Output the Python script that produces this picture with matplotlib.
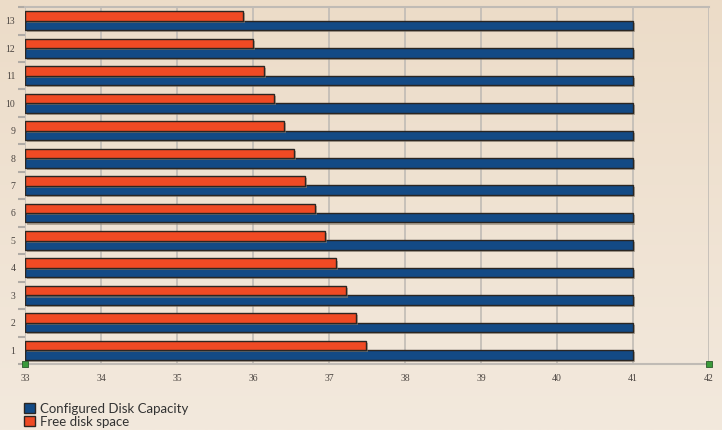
import numpy as np
import matplotlib.pyplot as plt
import matplotlib.patheffects as pe
from matplotlib.patches import Patch

# chart data
categories = [1, 2, 3, 4, 5, 6, 7, 8, 9, 10, 11, 12, 13]
configured = [41, 41, 41, 41, 41, 41, 41, 41, 41, 41, 41, 41, 41]
free_space = [37.49, 37.35, 37.22, 37.09, 36.95, 36.81, 36.68,
              36.54, 36.41, 36.27, 36.14, 36.00, 35.87]
x_ticks = [33, 34, 35, 36, 37, 38, 39, 40, 41, 42]

blue = "#134a85"
red = "#f04a24"
edge = "#2b2622"

fig = plt.figure(figsize=(7.22, 4.30), dpi=100)

# background gradient
bg = fig.add_axes([0, 0, 1, 1], zorder=-10)
grad = np.linspace(0, 1, 256).reshape(-1, 1)
top = np.array([236, 220, 200]) / 255
bot = np.array([243, 233, 221]) / 255
img = top + (bot - top) * grad[..., None]
bg.imshow(img, aspect="auto", extent=[0, 1, 0, 1])
bg.axis("off")

ax = fig.add_axes([0.0346, 0.1535, 0.9474, 0.830])
ax.patch.set_alpha(0)

y = np.array(categories)
h = 0.35
shadow = [pe.SimplePatchShadow(offset=(1.5, -1.5), shadow_rgbFace="#8a8070", alpha=0.6), pe.Normal()]

ax.barh(y - 0.17, [c - 33 for c in configured], left=33, height=h,
        color=blue, edgecolor=edge, linewidth=1.0, zorder=3, path_effects=shadow)
ax.barh(y + 0.17, [f - 33 for f in free_space], left=33, height=h,
        color=red, edgecolor=edge, linewidth=1.0, zorder=3, path_effects=shadow)

ax.set_xlim(33, 42)
ax.set_ylim(0.5, 13.5)
ax.set_xticks(x_ticks)
ax.set_xticklabels([str(t) for t in x_ticks])
ax.set_yticks(categories)
ax.set_yticks(np.arange(0.5, 14, 1), minor=True)

ax.grid(axis="x", color="#c0bbb5", linewidth=1.2, zorder=1)
ax.set_axisbelow(True)

for s in ["left", "right"]:
    ax.spines[s].set_visible(False)
for s in ["top", "bottom"]:
    ax.spines[s].set_color("#c0bbb5")
    ax.spines[s].set_linewidth(1.5)

ax.tick_params(axis="y", which="major", length=0, pad=7,
               labelsize=7, labelcolor="#4a4440")
ax.tick_params(axis="y", which="minor", length=5, width=1.5, color="#b0aba5")
ax.tick_params(axis="x", which="both", length=0, pad=7,
               labelsize=7, labelcolor="#4a4440")
for lab in ax.get_xticklabels() + ax.get_yticklabels():
    lab.set_family("Liberation Serif")

# axis end markers
ax.scatter([33, 42], [0.5, 0.5], marker="s", s=14, color="#3a9a3a",
           edgecolor="#2a5a2a", linewidth=0.6, clip_on=False, zorder=5)

handles = [Patch(facecolor=blue, edgecolor=edge, linewidth=1.0, label="Configured Disk Capacity"),
           Patch(facecolor=red, edgecolor=edge, linewidth=1.0, label="Free disk space")]
fig.legend(handles=handles, loc="lower left", bbox_to_anchor=(0.017, -0.022),
           frameon=False, handlelength=0.8, handleheight=0.8, handletextpad=0.4,
           labelspacing=0.05, prop={"family": "Lato", "size": 9.5}, labelcolor="#333333")

fig.savefig("out.png", dpi=100)
